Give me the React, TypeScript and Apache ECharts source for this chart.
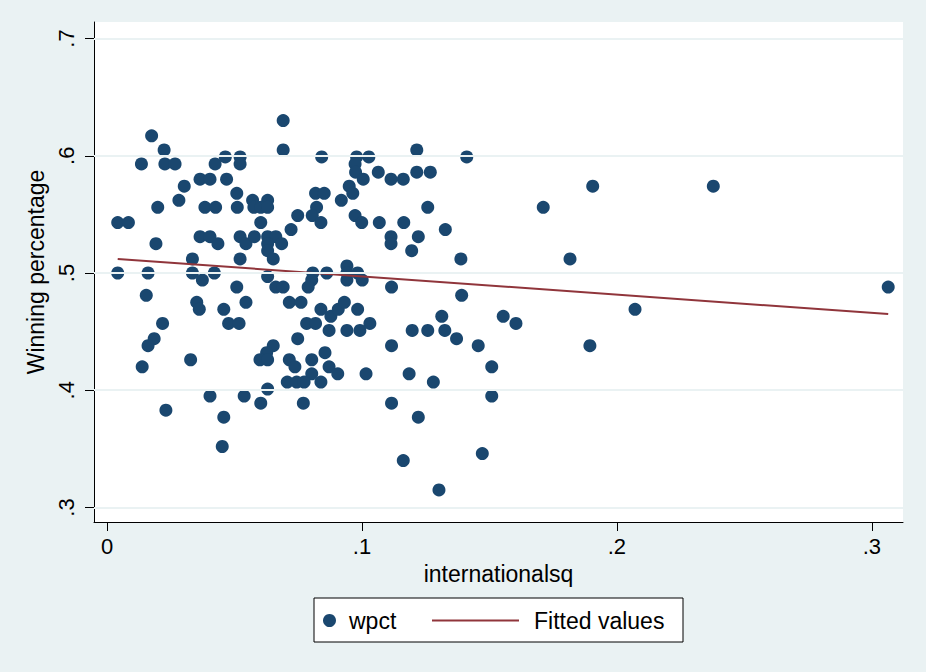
import React, { useEffect, useRef } from "react";
import * as echarts from "echarts";

const wpctX = [
  0.0175, 0.0224, 0.0135, 0.0227, 0.0267, 0.0424, 0.0464, 0.0303, 0.0365, 0.0404,
  0.0469, 0.0282, 0.0199, 0.0384, 0.0426, 0.0042, 0.0084, 0.0192, 0.0365, 0.0404,
  0.0435, 0.0335, 0.0042, 0.0161, 0.0335, 0.0421, 0.0374, 0.0154, 0.0352, 0.0362,
  0.0458, 0.0218, 0.0477, 0.0185, 0.0161, 0.0328, 0.0138, 0.0404, 0.0231, 0.0458,
  0.0452, 0.0691, 0.0691, 0.0842, 0.0522, 0.0522, 0.0979, 0.0973, 0.0975, 0.1005,
  0.0509, 0.0571, 0.0630, 0.0511, 0.0576, 0.0603, 0.0630, 0.0818, 0.0852, 0.0919,
  0.0950, 0.0964, 0.0822, 0.0805, 0.0748, 0.0839, 0.0973, 0.0999, 0.0603, 0.0722,
  0.0522, 0.0545, 0.0578, 0.0630, 0.0662, 0.0630, 0.0685, 0.0630, 0.0652, 0.0522,
  0.0630, 0.0807, 0.0803, 0.0862, 0.0941, 0.0941, 0.0941, 0.0983, 0.0509, 0.0662,
  0.0691, 0.0789, 0.0545, 0.0715, 0.0761, 0.0839, 0.0878, 0.0907, 0.0931, 0.0983,
  0.0518, 0.0783, 0.0818, 0.0871, 0.0941, 0.0992, 0.0748, 0.0652, 0.0626, 0.0600,
  0.0630, 0.0715, 0.0737, 0.0803, 0.0855, 0.0871, 0.0905, 0.0803, 0.0707, 0.0744,
  0.0773, 0.0839, 0.0630, 0.0538, 0.0603, 0.0770, 0.1016, 0.1215, 0.1411, 0.1027,
  0.1064, 0.1114, 0.1162, 0.1215, 0.1268, 0.1258, 0.1068, 0.1164, 0.1327, 0.1114,
  0.1114, 0.1221, 0.1195, 0.1388, 0.1001, 0.1116, 0.1391, 0.1313, 0.1554, 0.1031,
  0.1197, 0.1258, 0.1325, 0.1371, 0.1456, 0.1116, 0.1185, 0.1280, 0.1509, 0.1509,
  0.1116, 0.1221, 0.1162, 0.1472, 0.1302, 0.1905, 0.2378, 0.1711, 0.1816, 0.3064,
  0.2071, 0.1604, 0.1894,
];

const wpctY = [
  0.617, 0.605, 0.593, 0.593, 0.593, 0.593, 0.599, 0.574, 0.580, 0.580,
  0.580, 0.562, 0.556, 0.556, 0.556, 0.543, 0.543, 0.525, 0.531, 0.531,
  0.525, 0.512, 0.500, 0.500, 0.500, 0.500, 0.494, 0.481, 0.475, 0.469,
  0.469, 0.457, 0.457, 0.444, 0.438, 0.426, 0.420, 0.395, 0.383, 0.377,
  0.352, 0.630, 0.605, 0.599, 0.599, 0.593, 0.599, 0.593, 0.586, 0.580,
  0.568, 0.562, 0.562, 0.556, 0.556, 0.556, 0.556, 0.568, 0.568, 0.562,
  0.574, 0.568, 0.556, 0.549, 0.549, 0.543, 0.549, 0.543, 0.543, 0.537,
  0.531, 0.525, 0.531, 0.531, 0.531, 0.525, 0.525, 0.519, 0.512, 0.512,
  0.497, 0.500, 0.494, 0.500, 0.506, 0.500, 0.494, 0.500, 0.488, 0.488,
  0.488, 0.488, 0.475, 0.475, 0.475, 0.469, 0.463, 0.469, 0.475, 0.469,
  0.457, 0.457, 0.457, 0.451, 0.451, 0.451, 0.444, 0.438, 0.432, 0.426,
  0.426, 0.426, 0.420, 0.426, 0.432, 0.420, 0.414, 0.414, 0.407, 0.407,
  0.407, 0.407, 0.401, 0.395, 0.389, 0.389, 0.414, 0.605, 0.599, 0.599,
  0.586, 0.580, 0.580, 0.586, 0.586, 0.556, 0.543, 0.543, 0.537, 0.531,
  0.525, 0.531, 0.519, 0.512, 0.494, 0.488, 0.481, 0.463, 0.463, 0.457,
  0.451, 0.451, 0.451, 0.444, 0.438, 0.438, 0.414, 0.407, 0.420, 0.395,
  0.389, 0.377, 0.340, 0.346, 0.315, 0.574, 0.574, 0.556, 0.512, 0.488,
  0.469, 0.457, 0.438,
];

const fitX = [0.0042, 0.3064];
const fitY = [0.512, 0.465];

const xTicks = [0, 0.1, 0.2, 0.3];
const xTickLabels = ["0", ".1", ".2", ".3"];
const yTicks = [0.3, 0.4, 0.5, 0.6, 0.7];
const yTickLabels = [".3", ".4", ".5", ".6", ".7"];

const FONT = "'Liberation Sans', Arial, Helvetica, sans-serif";

function labelFor(ticks: number[], labels: string[]) {
  return (v: number) => {
    const i = ticks.findIndex((t) => Math.abs(t - v) < 1e-9);
    return i >= 0 ? labels[i] : "";
  };
}

export default function App() {
  const ref = useRef<HTMLDivElement>(null);

  useEffect(() => {
    if (!ref.current) return;
    const chart = echarts.init(ref.current, undefined, { renderer: "svg" });
    const scatterData = wpctX.map((x, i) => [x, wpctY[i]]);
    const fitData = fitX.map((x, i) => [x, fitY[i]]);

    chart.setOption({
      animation: false,
      backgroundColor: "#EAF2F3",
      textStyle: { fontFamily: FONT, color: "#000" },
      grid: {
        left: 94,
        right: 23,
        top: 22,
        bottom: 150,
        show: true,
        backgroundColor: "#FFFFFF",
        borderWidth: 0,
      },
      xAxis: {
        type: "value",
        min: -0.0051,
        max: 0.3122,
        name: "internationalsq",
        nameLocation: "middle",
        nameGap: 40,
        nameTextStyle: { fontSize: 23, color: "#000", fontFamily: FONT },
        axisLine: { show: true, onZero: false, lineStyle: { color: "#000", width: 1 } },
        axisTick: { show: true, customValues: xTicks, length: 9, lineStyle: { color: "#000" } },
        axisLabel: {
          customValues: xTicks,
          formatter: labelFor(xTicks, xTickLabels),
          fontSize: 22,
          color: "#000",
          margin: 13,
          fontFamily: FONT,
        },
        splitLine: { show: false },
      },
      yAxis: {
        type: "value",
        min: 0.2876,
        max: 0.7141,
        name: "Winning percentage",
        nameLocation: "middle",
        nameRotate: 90,
        nameGap: 37,
        nameTextStyle: { fontSize: 23, color: "#000", fontFamily: FONT },
        axisLine: { show: true, onZero: false, lineStyle: { color: "#000", width: 1 } },
        axisTick: { show: true, customValues: yTicks, length: 9, lineStyle: { color: "#000" } },
        axisLabel: {
          customValues: yTicks,
          formatter: labelFor(yTicks, yTickLabels),
          rotate: 90,
          fontSize: 22,
          color: "#000",
          margin: 17,
          fontFamily: FONT,
        },
        splitLine: { show: false },
      },
      legend: [
        {
          data: ["wpct"],
          left: 318,
          top: 604,
          icon: "circle",
          itemWidth: 13,
          itemHeight: 13,
          textStyle: { fontSize: 23, color: "#000", fontFamily: FONT, padding: [0, 0, 0, 8] },
        },
        {
          data: ["Fitted values"],
          left: 427,
          top: 604,
          icon: "rect",
          itemWidth: 87,
          itemHeight: 2,
          itemStyle: { color: "#90353B" },
          textStyle: { fontSize: 23, color: "#000", fontFamily: FONT, padding: [0, 0, 0, 10] },
        },
      ],
      graphic: [
        {
          type: "rect",
          shape: { x: 314, y: 598, width: 369, height: 44 },
          style: { fill: "#FFFFFF", stroke: "#000", lineWidth: 1 },
          z: 0,
        },
      ],
      series: [
        {
          name: "grid",
          type: "line",
          data: [],
          silent: true,
          z: 1,
          markLine: {
            silent: true,
            symbol: "none",
            label: { show: false },
            lineStyle: { color: "#EAF2F3", width: 2, type: "solid" },
            data: yTicks.map((v) => ({ yAxis: v })),
          },
        },
        {
          name: "wpct",
          type: "scatter",
          data: scatterData,
          symbol: "circle",
          symbolSize: 13,
          itemStyle: { color: "#1A476F", opacity: 1 },
          z: 3,
        },
        {
          name: "Fitted values",
          type: "line",
          data: fitData,
          symbol: "none",
          showSymbol: false,
          lineStyle: { color: "#90353B", width: 2 },
          itemStyle: { color: "#90353B" },
          z: 4,
        },
      ],
    });

    return () => chart.dispose();
  }, []);

  return (
    <div
      ref={ref}
      style={{ position: "fixed", left: 0, top: 0, width: 926, height: 672 }}
    />
  );
}
